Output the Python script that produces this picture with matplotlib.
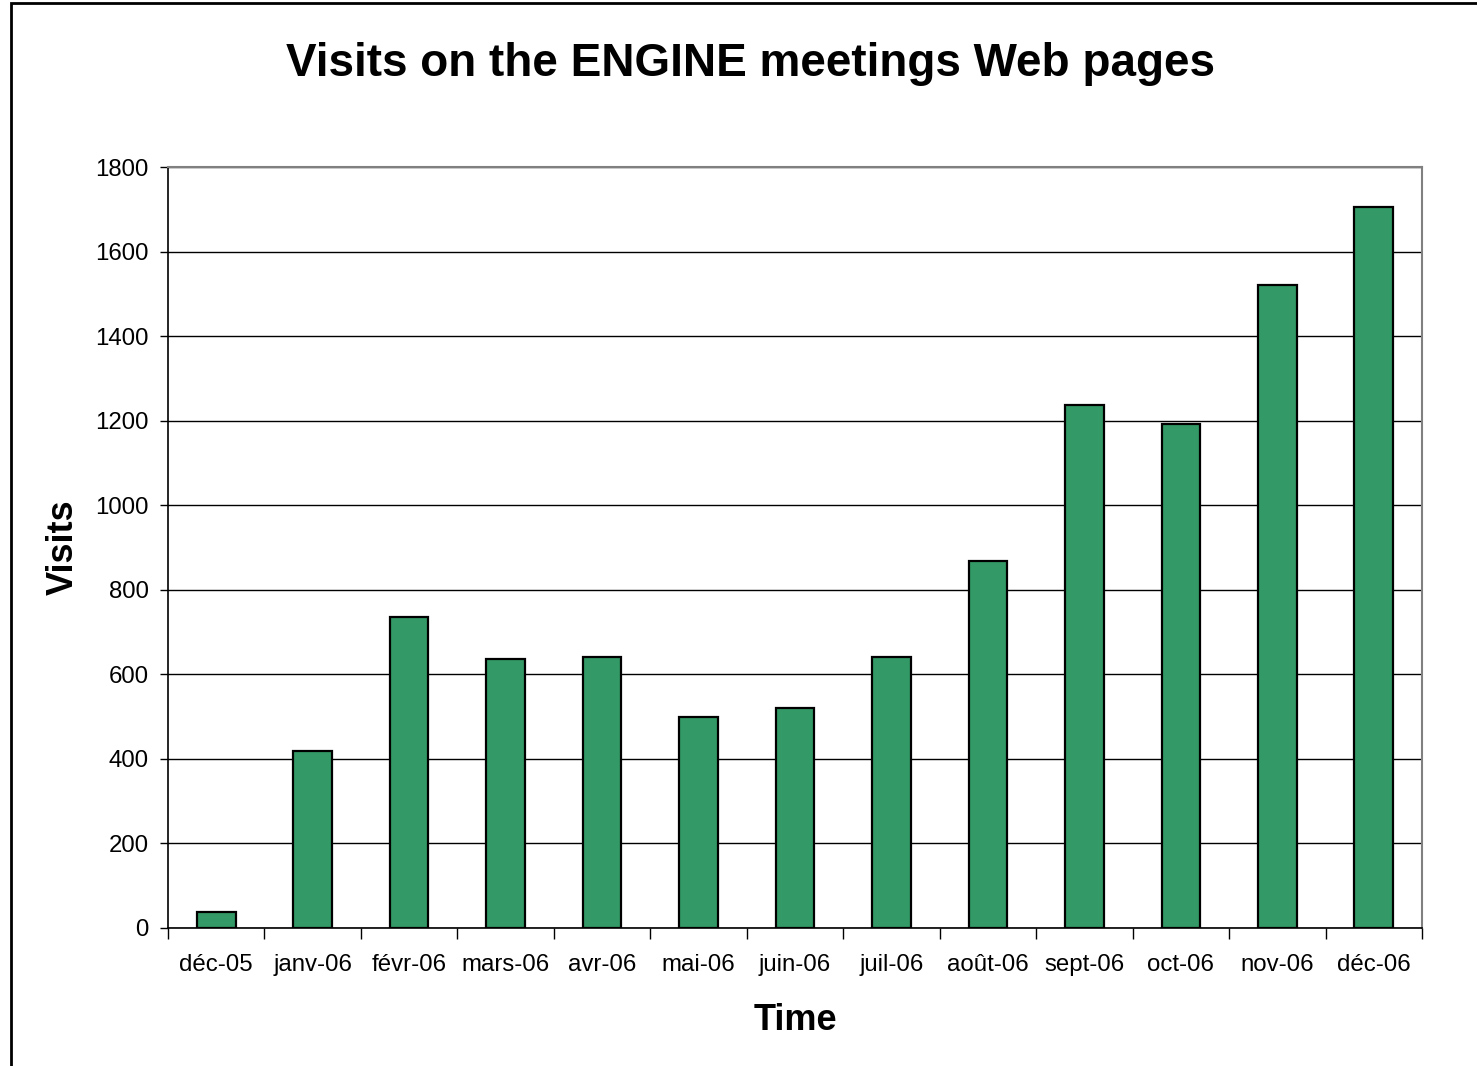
import numpy as np
import matplotlib.pyplot as plt
from matplotlib.patches import Rectangle
from matplotlib.ticker import FixedLocator, NullFormatter

plt.rcParams["font.family"] = ["Liberation Sans", "DejaVu Sans"]

months = ["déc-05", "janv-06", "févr-06", "mars-06", "avr-06", "mai-06", "juin-06",
          "juil-06", "août-06", "sept-06", "oct-06", "nov-06", "déc-06"]
visits = [38, 419, 736, 636, 641, 499, 520, 641, 868, 1237, 1192, 1521, 1705]
yticks = [0, 200, 400, 600, 800, 1000, 1200, 1400, 1600, 1800]

fig = plt.figure(figsize=(14.77, 10.66), dpi=100)
ax = fig.add_axes([168/1477, 138/1066, 1254/1477, 761/1066])

x = np.arange(len(months))
ax.bar(x, visits, width=0.4, color="#339966", edgecolor="black", linewidth=1.6, zorder=3)

ax.set_xlim(-0.5, len(months) - 0.5)
ax.set_ylim(0, 1800)
ax.set_yticks(yticks)
ax.yaxis.grid(True, color="black", linewidth=1.0, zorder=0)

ax.set_xticks(x)
ax.set_xticklabels(months)
ax.xaxis.set_minor_locator(FixedLocator(np.arange(-0.5, len(months), 1.0)))
ax.xaxis.set_minor_formatter(NullFormatter())
ax.tick_params(axis="x", which="major", length=0, pad=19, labelsize=17.3)
ax.tick_params(axis="x", which="minor", length=8, width=1.0, direction="out")
ax.tick_params(axis="y", length=6, width=1.0, direction="out", pad=8, labelsize=17.3)

for s in ["top", "right"]:
    ax.spines[s].set_color("#808080")
    ax.spines[s].set_linewidth(1.5)
for s in ["left", "bottom"]:
    ax.spines[s].set_color("black")
    ax.spines[s].set_linewidth(1.2)

ax.set_xlabel("Time", fontsize=26, fontweight="bold", labelpad=19)
ax.set_ylabel("Visits", fontsize=26, fontweight="bold", labelpad=10)
fig.text(750/1477, 1 - 64/1066, "Visits on the ENGINE meetings Web pages",
         ha="center", va="center", fontsize=33, fontweight="bold")

# chart outline (cropped on the right and bottom)
fig.patches.append(Rectangle((11/1477, -0.1), 1.2, 1.1 - 3/1066, transform=fig.transFigure,
                             fill=False, edgecolor="black", linewidth=2))

fig.savefig("out.png", dpi=100)
